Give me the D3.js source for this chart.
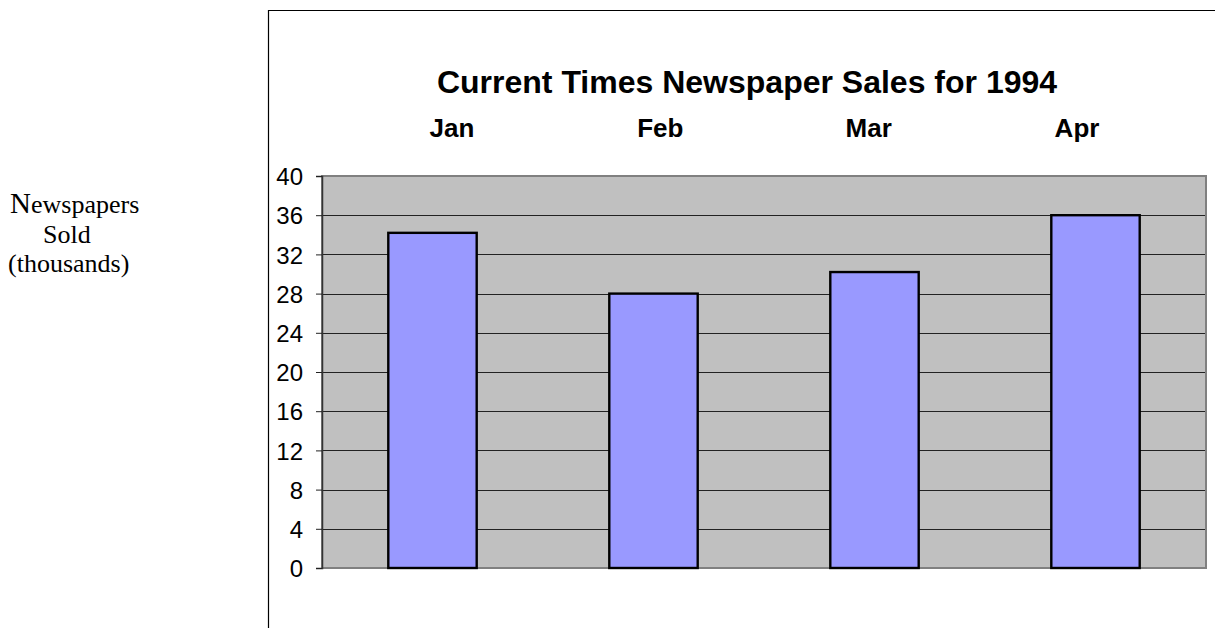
<!DOCTYPE html>
<html>
<head>
<meta charset="utf-8">
<script src="https://cdn.jsdelivr.net/npm/d3@7"></script>
<style>
  html, body { margin: 0; padding: 0; background: #fff; }
  svg { display: block; }
</style>
</head>
<body>
<svg id="chart" width="1215" height="628"></svg>
<script>
// Monthly sales, thousands of copies
const months = ["Jan", "Feb", "Mar", "Apr"];
const sales = [34.2, 28, 30.2, 36];
const yTicks = [0, 4, 8, 12, 16, 20, 24, 28, 32, 36, 40];
const titleText = "Current Times Newspaper Sales for 1994";

const svg = d3.select("#chart");
const W = 1215, H = 628;

const plot = { left: 322, right: 1206, top: 176, bottom: 568 };

const x = d3.scaleBand()
  .domain(months)
  .range([plot.left, plot.right])
  .paddingInner(0.6)
  .paddingOuter(0.3);

const y = d3.scaleLinear()
  .domain([0, 40])
  .range([plot.bottom, plot.top]);

// month headings along the top, in their own row
const xHead = d3.scalePoint()
  .domain(months)
  .range([452, 1077]);

// outer chart frame (left and top edges)
svg.append("path")
  .attr("d", `M268.5,${H} V10.5 H${W}`)
  .attr("fill", "none")
  .attr("stroke", "#000")
  .attr("stroke-width", 1.2);

// plot area
svg.append("rect")
  .attr("x", plot.left)
  .attr("y", plot.top)
  .attr("width", plot.right - plot.left)
  .attr("height", plot.bottom - plot.top)
  .attr("fill", "#c0c0c0")
  .attr("stroke", "#808080")
  .attr("stroke-width", 2);

// horizontal gridlines
svg.append("g")
  .selectAll("line")
  .data(yTicks.filter(d => d > 0 && d < 40))
  .join("line")
  .attr("x1", plot.left)
  .attr("x2", plot.right - 1)
  .attr("y1", d => Math.round(y(d)) + 0.5)
  .attr("y2", d => Math.round(y(d)) + 0.5)
  .attr("stroke", "#222")
  .attr("stroke-width", 1);

// y axis
const yAxis = svg.append("g")
  .attr("transform", `translate(${plot.left},0)`)
  .call(d3.axisLeft(y).tickValues(yTicks).tickSize(6).tickPadding(13).tickFormat(d3.format("d")));
yAxis.select(".domain").attr("stroke", "#333").attr("stroke-width", 1.5);
yAxis.selectAll(".tick line").attr("stroke", "#222");
yAxis.selectAll(".tick text")
  .attr("font-family", "Arial, 'Liberation Sans', sans-serif")
  .attr("font-size", 24)
  .attr("dy", "0.36em")
  .attr("fill", "#000");

// bars
svg.append("g")
  .selectAll("rect")
  .data(months.map((m, i) => ({ month: m, value: sales[i] })))
  .join("rect")
  .attr("x", d => x(d.month))
  .attr("y", d => y(d.value))
  .attr("width", x.bandwidth())
  .attr("height", d => y(0) - y(d.value))
  .attr("fill", "#9999ff")
  .attr("stroke", "#000")
  .attr("stroke-width", 2.4);

// title
svg.append("text")
  .attr("x", 747)
  .attr("y", 93)
  .attr("text-anchor", "middle")
  .attr("font-family", "Arial, 'Liberation Sans', sans-serif")
  .attr("font-weight", "bold")
  .attr("font-size", 32)
  .text(titleText);

// month headings
svg.append("g")
  .selectAll("text")
  .data(months)
  .join("text")
  .attr("x", d => xHead(d))
  .attr("y", 137)
  .attr("text-anchor", "middle")
  .attr("font-family", "Arial, 'Liberation Sans', sans-serif")
  .attr("font-weight", "bold")
  .attr("font-size", 26)
  .text(d => d);

// y axis label, set apart to the left
const ylab = svg.append("g")
  .attr("font-family", "'Times New Roman', 'Liberation Serif', serif")
  .attr("font-size", 26)
  .attr("fill", "#000");
const l1 = ylab.append("text").attr("x", 10).attr("y", 213);
l1.append("tspan").attr("font-size", 29).text("N");
l1.append("tspan").text("ewspapers");
ylab.append("text").attr("x", 43).attr("y", 243).text("Sold");
ylab.append("text").attr("x", 8).attr("y", 272).text("(thousands)");
</script>
</body>
</html>
